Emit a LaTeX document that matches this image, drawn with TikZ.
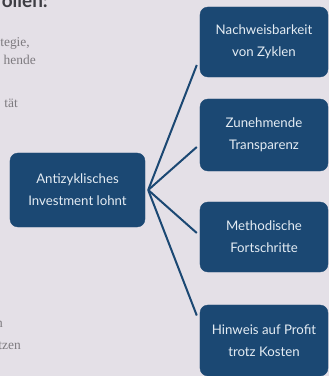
\documentclass[tikz,border=0pt]{standalone}
\usepackage{fontspec}
\setmainfont{Liberation Serif}
\newfontfamily\boxfont{Lato}
\usepackage{xcolor}
\definecolor{navy}{HTML}{1B4873}
\definecolor{slidebg}{HTML}{E4E0E7}
\definecolor{sidetext}{HTML}{7E7B80}
\definecolor{titletext}{HTML}{3E3E44}
\definecolor{boxtext}{HTML}{E4ECF3}
\usetikzlibrary{positioning,calc}

\begin{document}
\begin{tikzpicture}[x=1bp,y=1bp,
  box/.style={draw=navy, fill=navy, rounded corners=8bp, align=center,
    text=boxtext, font=\boxfont\fontsize{13.3}{22}\selectfont,
    minimum width=128bp, minimum height=70bp, inner sep=0pt},
  link/.style={draw=navy, line width=2bp},
  side/.style={font=\fontsize{13.5}{15}\selectfont, text=sidetext,
    anchor=base east, inner sep=0pt}]
  \useasboundingbox (0,0) rectangle (329,376);
  \fill[slidebg] (0,0) rectangle (329,376);
  \clip (0,0) rectangle (329,376);

  \node[font=\boxfont\bfseries\fontsize{19}{21}\selectfont, text=titletext,
        anchor=base east, inner sep=0pt] (title) at (48,369) {ollen:};
  \node[side] (s1) at (30,330) {tegie,};
  \node[side] (s2) at (36,312) {hende};
  \node[side] (s3) at (18,269) {tät};
  \node[side] (s4) at (3,49) {n};
  \node[side] (s5) at (21,27) {tzen};

  \node[box, minimum width=135bp, minimum height=74bp] (ctr) at (77.5,186)
       {Antizyklisches\\Investment lohnt};
  \node[box] (b1) at (264,334) {Nachweisbarkeit\\von Zyklen};
  \node[box, minimum height=72bp] (b2) at (264,241) {Zunehmende\\Transparenz};
  \node[box] (b3) at (264,139) {Methodische\\Fortschritte};
  \node[box, minimum height=71bp] (b4) at (264,35.5) {Hinweis auf Profit\\trotz Kosten};

  \coordinate (hub) at ([xshift=3bp]ctr.east);
  \coordinate (e1) at ([xshift=-3bp,yshift=-23bp]b1.west);
  \coordinate (e2) at ([xshift=-3bp,yshift=-12bp]b2.west);
  \coordinate (e3) at ([xshift=-3bp,yshift=4bp]b3.west);
  \coordinate (e4) at ([xshift=-3bp,yshift=25bp]b4.west);
  \foreach \e in {e1,e2,e3,e4}
    \draw[link] (hub) -- (\e);
\end{tikzpicture}
\end{document}
